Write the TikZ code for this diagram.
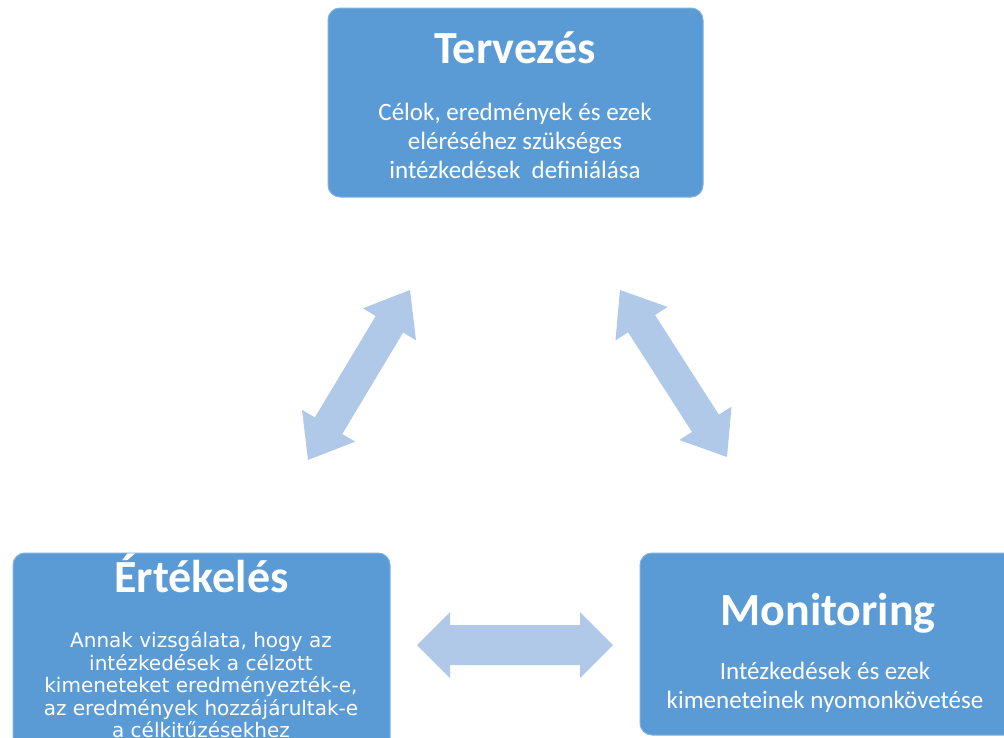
\documentclass[tikz,border=0pt]{standalone}
\usepackage{fontspec}
\setmainfont{Carlito}
\newfontfamily\verd{DejaVu Sans}
\usetikzlibrary{calc}
\definecolor{boxblue}{HTML}{5B9BD5}
\definecolor{boxedge}{HTML}{7FB0DE}
\definecolor{arrowblue}{HTML}{B1C9E8}
\tikzset{
  box/.style={fill=boxblue, draw=boxedge, line width=1pt, rounded corners=12pt, inner sep=0pt},
  title/.style={text=white, font=\fontsize{46}{50}\selectfont\bfseries, inner sep=0pt, anchor=base},
  sub/.style={text=white, font=\fontsize{25}{29}\selectfont, align=center, inner sep=0pt},
  subv/.style={text=white, font=\verd\fontsize{20}{22.5}\selectfont, align=center, inner sep=0pt},
  arrowfill/.style={fill=arrowblue}
}
% #1 from, #2 to, #3 head length, #4 shaft half width, #5 head half width
\newcommand\dblarrow[5]{%
  \fill[arrowfill] (#1)
    -- ($(#1)!#3!(#2)!#5!90:(#2)$)
    -- ($(#1)!#3!(#2)!#4!90:(#2)$)
    -- ($(#2)!#3!(#1)!#4!-90:(#1)$)
    -- ($(#2)!#3!(#1)!#5!-90:(#1)$)
    -- (#2)
    -- ($(#2)!#3!(#1)!#5!90:(#1)$)
    -- ($(#2)!#3!(#1)!#4!90:(#1)$)
    -- ($(#1)!#3!(#2)!#4!-90:(#2)$)
    -- ($(#1)!#3!(#2)!#5!-90:(#2)$)
    -- cycle;}
\begin{document}
\begin{tikzpicture}[x=1pt,y=-1pt]
\useasboundingbox (0,0) rectangle (1004,737);
\fill[white] (0,0) rectangle (1004,737);

% boxes
\node[box, minimum width=375pt, minimum height=189pt] (terv) at (515.5,102.5) {};
\node[box, minimum width=377pt, minimum height=207pt] (ert) at (201.5,656.5) {};
\node[box, minimum width=390pt, minimum height=182pt] (mon) at (835,644) {};

% titles
\node[title] (tervT) at (515,63) {Tervezés};
\node[title] (ertT) at (201.5,592) {Értékelés};
\node[title] (monT) at (828,625) {Monitoring};

% subtexts
\node[sub] (tervS) at (515,140.5) {Célok, eredmények és ezek\\eléréséhez szükséges\\intézkedések\ \ definiálása};
\node[subv] (ertS) at (201,685) {Annak vizsgálata, hogy az\\intézkedések a célzott\\kimeneteket eredményezték-e,\\az eredmények hozzájárultak-e\\a célkitűzésekhez};
\node[sub] (monS) at (825,687) {Intézkedések és ezek\\kimeneteinek nyomonkövetése};

% arrows
\coordinate (l1) at (308,460);
\coordinate (l2) at (410,290);
\coordinate (r1) at (620,290);
\coordinate (r2) at (727,457);
\coordinate (h1) at (417,645);
\coordinate (h2) at (613,645);
\dblarrow{l1}{l2}{40pt}{16pt}{31pt}
\dblarrow{r1}{r2}{40pt}{16pt}{31pt}
\dblarrow{h1}{h2}{33pt}{20pt}{33pt}
\end{tikzpicture}
\end{document}
